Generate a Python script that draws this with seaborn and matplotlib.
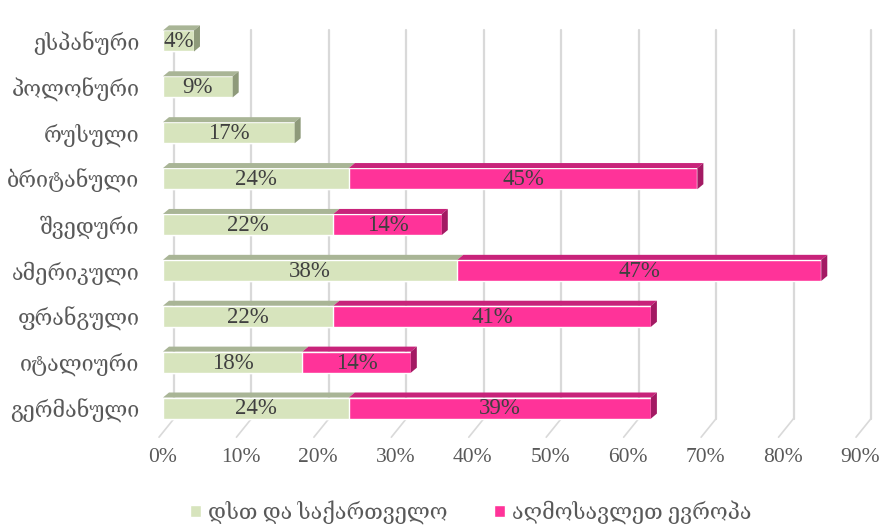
import numpy as np
import pandas as pd
import matplotlib
matplotlib.use('Agg')
import matplotlib.pyplot as plt
import matplotlib.transforms as mtransforms
from matplotlib.patches import Polygon, Patch
import seaborn as sns

# ==============================================================================
# DATA
# ==============================================================================
categories = ['ესპანური', 'პოლონური', 'რუსული', 'ბრიტანული', 'შვედური',
              'ამერიკული', 'ფრანგული', 'იტალიური', 'გერმანული']
cis_georgia = [4, 9, 17, 24, 22, 38, 22, 18, 24]
east_europe = [0, 0, 0, 45, 14, 47, 41, 14, 39]
series_names = ['დსთ და საქართველო', 'აღმოსავლეთ ევროპა']
x_ticks = [0, 10, 20, 30, 40, 50, 60, 70, 80, 90]

# ==============================================================================
# STYLE
# ==============================================================================
GREEN = '#D7E4BD'
GREEN_TOP = '#A9B596'
GREEN_SIDE = '#8E9A7A'
PINK = '#FF3399'
PINK_TOP = '#C8237A'
PINK_SIDE = '#A31A63'
GRID = '#D9D9D9'
TEXT = '#595959'
FONT = ['Liberation Serif', 'DejaVu Serif']

sns.set_theme(style='white')
plt.rcParams['font.family'] = FONT

df = pd.DataFrame({'lang': categories, 'green': cis_georgia, 'pink': east_europe})
df['total'] = df['green'] + df['pink']

fig = plt.figure(figsize=(8.8, 5.27), dpi=100)
ax = fig.add_axes([163 / 880, (527 - 431) / 527, 697 / 880, 413 / 527])

# pink = full stacked length, green drawn on top of it
sns.barplot(data=df, x='total', y='lang', color=PINK, saturation=1, width=0.46,
            orient='h', ax=ax, zorder=3)
sns.barplot(data=df, x='green', y='lang', color=GREEN, saturation=1, width=0.46,
            orient='h', ax=ax, zorder=3)

ax.set_xlim(0, 90)
ax.set_ylim(len(categories) - 0.5, -0.5)

# pixel -> data conversion for the fake 3D depth
px_x = 90 / 697
px_y = len(categories) / 413
dx, dy = 6 * px_x, 5 * px_y

pink_bars = ax.containers[0]
green_bars = ax.containers[1]
for i, (pb, gb) in enumerate(zip(pink_bars, green_bars)):
    y_top = gb.get_y()
    h = gb.get_height()
    g = gb.get_width()
    t = pb.get_width()
    segs = [(0, g, GREEN_TOP)]
    if t > g:
        segs.append((g, t, PINK_TOP))
    for x0, x1, c in segs:
        ax.add_patch(Polygon([(x0, y_top), (x1, y_top), (x1 + dx, y_top - dy), (x0 + dx, y_top - dy)],
                             closed=True, facecolor=c, edgecolor='none', zorder=3))
    side = PINK_SIDE if t > g else GREEN_SIDE
    ax.add_patch(Polygon([(t, y_top), (t + dx, y_top - dy), (t + dx, y_top + h - dy), (t, y_top + h)],
                         closed=True, facecolor=side, edgecolor='none', zorder=3))

# value labels
for i, (g, p) in enumerate(zip(cis_georgia, east_europe)):
    ax.text(g / 2, i + 0.02, f'{g}%', ha='center', va='center', fontsize=16.5, color='#404040', zorder=4)
    if p > 0:
        ax.text(g + p / 2, i + 0.02, f'{p}%', ha='center', va='center', fontsize=16.5, color='#404040', zorder=4)

# back-wall gridlines plus the floor diagonals
shift = mtransforms.ScaledTranslation(11 / 100, 0, fig.dpi_scale_trans)
blend = mtransforms.blended_transform_factory(ax.transData, ax.transAxes)
for v in x_ticks:
    ax.plot([v, v], [0.03, 0.97], color=GRID, lw=1.6, transform=blend + shift, zorder=0, clip_on=False)
    ax.plot([v - 4 * px_x, v + 11 * px_x], [-0.015, 0.03], color=GRID, lw=1.2,
            transform=blend, zorder=0, clip_on=False)

ax.set_xticks(x_ticks)
ax.set_xticklabels([f'{v}%' for v in x_ticks], fontsize=15.5, color=TEXT)
ax.tick_params(axis='x', length=0, pad=12)
ax.tick_params(axis='y', length=0, pad=17, labelsize=15.5, labelcolor=TEXT)
ax.set_xlabel('')
ax.set_ylabel('')
for s in ax.spines.values():
    s.set_visible(False)

handles = [Patch(facecolor=GREEN, label=series_names[0]), Patch(facecolor=PINK, label=series_names[1])]
fig.legend(handles=handles, loc='center', bbox_to_anchor=(0.535, 0.028), ncol=2, frameon=False,
           fontsize=15.5, handlelength=0.5, handleheight=0.5, handletextpad=0.3, columnspacing=2.2,
           labelcolor=TEXT)

plt.savefig('out.png', dpi=100)
plt.close()
